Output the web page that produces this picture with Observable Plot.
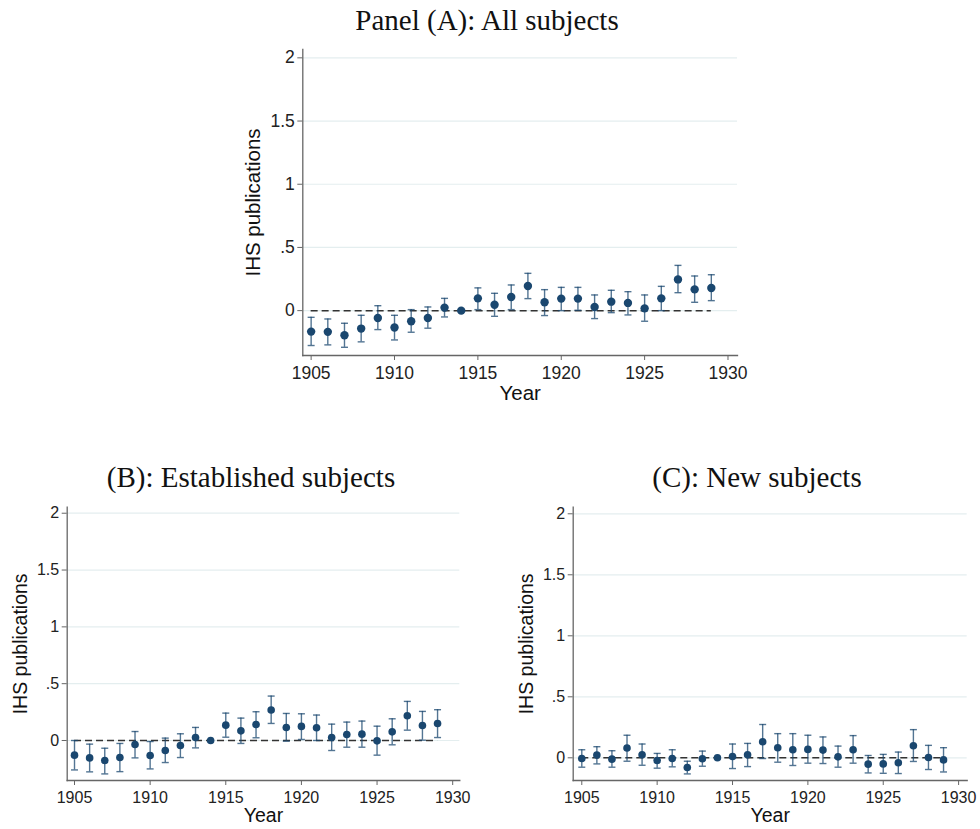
<!DOCTYPE html>
<html>
<head>
<meta charset="utf-8">
<script src="https://cdn.jsdelivr.net/npm/d3@7"></script>
<script src="https://cdn.jsdelivr.net/npm/@observablehq/plot@0.6"></script>
<style>
  html, body { margin: 0; padding: 0; background: #fff; }
  #page { position: relative; width: 980px; height: 829px; overflow: hidden; background: #fff; }
  .panel { position: absolute; }
  .title { position: absolute; font-family: "Liberation Serif", "DejaVu Serif", serif; font-size: 29px; color: #111; text-align: center; white-space: nowrap; line-height: 32px; height: 32px; }
</style>
</head>
<body>
<div id="page"></div>
<script>
// ---- data ----
const years = [1905,1906,1907,1908,1909,1910,1911,1912,1913,1914,1915,1916,1917,1918,1919,1920,1921,1922,1923,1924,1925,1926,1927,1928,1929];

// Panel (A): All subjects
const aEst = [-0.166,-0.168,-0.195,-0.142,-0.058,-0.134,-0.084,-0.058,0.024,0,0.097,0.047,0.108,0.195,0.066,0.095,0.095,0.029,0.071,0.061,0.018,0.097,0.247,0.168,0.179];
const aHi  = [-0.053,-0.066,-0.100,-0.037,0.039,-0.037,0.008,0.029,0.097,null,0.180,0.137,0.203,0.295,0.166,0.184,0.184,0.124,0.161,0.150,0.124,0.192,0.358,0.274,0.284];
const aLo  = [-0.276,-0.271,-0.290,-0.247,-0.150,-0.232,-0.171,-0.139,-0.050,null,0.008,-0.045,0.008,0.095,-0.039,0.000,0.003,-0.063,-0.016,-0.034,-0.084,0.000,0.142,0.066,0.079];

// Panel (B): Established subjects
const bEst = [-0.129,-0.153,-0.176,-0.150,-0.035,-0.132,-0.088,-0.044,0.026,0,0.135,0.085,0.141,0.268,0.115,0.124,0.112,0.026,0.053,0.056,-0.003,0.076,0.218,0.132,0.150];
const bHi  = [0.000,-0.032,-0.068,-0.026,0.079,-0.009,0.021,0.059,0.115,null,0.241,0.197,0.253,0.391,0.238,0.235,0.224,0.144,0.162,0.171,0.126,0.191,0.344,0.256,0.271];
const bLo  = [-0.259,-0.276,-0.294,-0.274,-0.153,-0.250,-0.194,-0.150,-0.065,null,0.029,-0.026,0.024,0.150,-0.006,0.009,0.000,-0.088,-0.059,-0.059,-0.129,-0.038,0.091,0.003,0.026];

// Panel (C): New subjects
const cEst = [-0.006,0.022,-0.011,0.080,0.025,-0.022,-0.006,-0.080,-0.008,0,0.011,0.025,0.132,0.083,0.066,0.069,0.063,0.008,0.066,-0.052,-0.050,-0.041,0.099,0.003,-0.017];
const cHi  = [0.066,0.091,0.058,0.185,0.113,0.036,0.066,-0.028,0.055,null,0.113,0.118,0.273,0.198,0.198,0.185,0.171,0.096,0.182,0.019,0.028,0.047,0.231,0.102,0.083];
const cLo  = [-0.077,-0.050,-0.077,-0.028,-0.061,-0.085,-0.074,-0.132,-0.069,null,-0.088,-0.072,-0.006,-0.036,-0.063,-0.044,-0.047,-0.077,-0.044,-0.124,-0.127,-0.129,-0.030,-0.096,-0.116];

const xTicks = [1905,1910,1915,1920,1925,1930];
const yTicks = [0,0.5,1,1.5,2];
const yTickLabels = ["0",".5","1","1.5","2"];

const titles = ["Panel (A): All subjects", "(B): Established subjects", "(C): New subjects"];
const yLabel = "IHS publications";
const xLabel = "Year";

// ---- drawing ----
const navy = "#1a476f";
const capSymbol = {
  draw(ctx, size) {
    const r = Math.sqrt(size / Math.PI);
    ctx.moveTo(-r, 0);
    ctx.lineTo(r, 0);
  }
};

function table(est, lo, hi) {
  return years.map((year, i) => ({year, est: est[i], lo: lo[i], hi: hi[i]}));
}

function panel(cfg) {
  const rows = table(cfg.est, cfg.lo, cfg.hi);
  const ci = rows.filter(d => d.lo != null);
  const fmt = d => yTickLabels[yTicks.indexOf(d)];
  const chart = Plot.plot({
    width: cfg.width,
    height: cfg.height,
    marginLeft: cfg.ml, marginRight: cfg.mr, marginTop: cfg.mt, marginBottom: cfg.mb,
    style: {fontFamily: "'Liberation Sans', Arial, sans-serif", background: "transparent", overflow: "visible"},
    x: {domain: cfg.xDomain},
    y: {domain: cfg.yDomain},
    marks: [
      Plot.gridY(yTicks, {stroke: "#e4eeef", strokeOpacity: 1, strokeWidth: 1.2}),
      Plot.frame({anchor: "left", stroke: "#666", strokeWidth: 1.3}),
      Plot.frame({anchor: "bottom", stroke: "#666", strokeWidth: 1.3}),
      Plot.axisY(yTicks, {tickSize: 5, tickPadding: 3, tickFormat: fmt, fontSize: cfg.tickFont, stroke: "#666", color: "#222", label: null}),
      Plot.axisX(xTicks, {tickSize: 5, tickPadding: 6, tickFormat: d => String(d), fontSize: cfg.tickFont, stroke: "#666", color: "#222", label: null}),
      Plot.ruleY([0], {x1: years[0], x2: years[years.length - 1], stroke: "#333", strokeWidth: 1.5, strokeDasharray: "7,4"}),
      Plot.ruleX(ci, {x: "year", y1: "lo", y2: "hi", stroke: navy, strokeOpacity: 0.75, strokeWidth: 1.4}),
      Plot.dot(ci, {x: "year", y: "lo", symbol: capSymbol, r: 3.5, stroke: navy, strokeOpacity: 0.75, strokeWidth: 1.4, fill: "none"}),
      Plot.dot(ci, {x: "year", y: "hi", symbol: capSymbol, r: 3.5, stroke: navy, strokeOpacity: 0.75, strokeWidth: 1.4, fill: "none"}),
      Plot.dot(rows, {x: "year", y: "est", r: cfg.r, fill: navy, stroke: "none"}),
      Plot.text([yLabel], {frameAnchor: "left", textAnchor: "middle", lineAnchor: "middle", rotate: -90, dx: -cfg.yLabelDx, fontSize: cfg.labelFont, fill: "#111"}),
      Plot.text([xLabel], {frameAnchor: "bottom", textAnchor: "middle", lineAnchor: "middle", dy: cfg.xLabelDy, fontSize: cfg.labelFont, fill: "#111"})
    ]
  });
  chart.classList.add("panel");
  chart.style.left = cfg.left + "px";
  chart.style.top = cfg.top + "px";
  return chart;
}

const page = document.getElementById("page");

page.appendChild(panel({
  est: aEst, lo: aLo, hi: aHi,
  left: 230, top: 40, width: 520, height: 370,
  ml: 72.3, mr: 13, mt: 9, mb: 55,
  xDomain: [1904.5, 1930.57], yDomain: [-0.355, 2.066],
  tickFont: 17.5, labelFont: 20.5, r: 4.2, yLabelDx: 49, xLabelDy: 38
}));

page.appendChild(panel({
  est: bEst, lo: bLo, hi: bHi,
  left: 0, top: 490, width: 480, height: 339,
  ml: 66.7, mr: 20.7, mt: 16.7, mb: 49,
  xDomain: [1904.517, 1930.47], yDomain: [-0.352, 2.053],
  tickFont: 16, labelFont: 19.5, r: 3.8, yLabelDx: 46, xLabelDy: 35
}));

page.appendChild(panel({
  est: cEst, lo: cLo, hi: cHi,
  left: 490, top: 490, width: 490, height: 339,
  ml: 82.7, mr: 13.3, mt: 16.7, mb: 49,
  xDomain: [1904.43, 1930.57], yDomain: [-0.186, 2.054],
  tickFont: 16, labelFont: 19.5, r: 3.8, yLabelDx: 46, xLabelDy: 35
}));

const titlePos = [[487, 4], [251, 461], [757, 461]];
titles.forEach((t, i) => {
  const d = document.createElement("div");
  d.className = "title";
  d.textContent = t;
  d.style.left = (titlePos[i][0] - 250) + "px";
  d.style.width = "500px";
  d.style.top = titlePos[i][1] + "px";
  page.appendChild(d);
});
</script>
</body>
</html>
